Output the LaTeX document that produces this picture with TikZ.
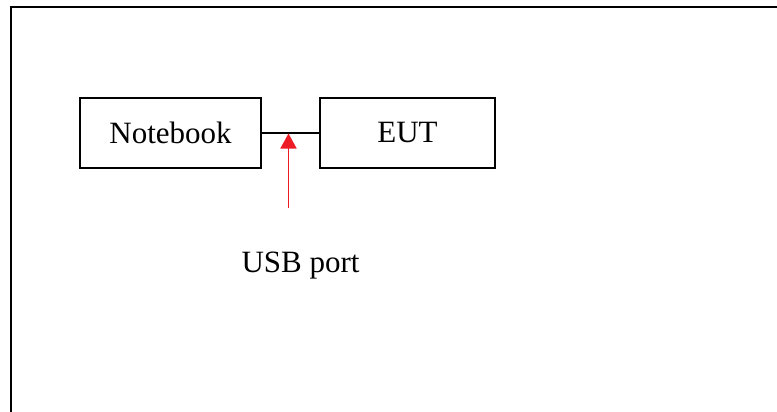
\documentclass[tikz,border=0pt]{standalone}
\usepackage{fontspec}
\setmainfont{Liberation Serif}
\usepackage{xcolor}
\definecolor{portred}{HTML}{ED1C24}
\usetikzlibrary{arrows.meta, positioning, calc}

\begin{document}
\begin{tikzpicture}[x=0.5pt, y=-0.5pt,
    every node/.style={font=\fontsize{15.5}{18}\selectfont},
    unit/.style={rectangle, draw, line width=1pt, minimum height=35pt,
                 inner sep=0pt}]

    % --- page area and frame (right and bottom edges lie off the page)
    \useasboundingbox (0,0) rectangle (777,412);
    \clip (0,0) rectangle (777,412);
    \draw[line width=1pt] (790,7) -| (10.5,430);

    % --- notebook linked to the EUT
    \node[unit, minimum width=90.5pt] (notebook) at (170.5,133) {Notebook};
    \node[unit, minimum width=87.5pt] (eut) at (407.5,133) {EUT};
    \draw[line width=1pt] (notebook.east) -- (eut.west);

    % --- USB port marker
    \coordinate (port) at (288.5,133.5);
    \coordinate (tail) at (288.5,208);
    \draw[-{Triangle[length=7.5pt, width=8pt]}, portred, line width=0.9pt]
        (tail) -- (port);
    \node[anchor=base] (usb) at (300.5,272) {USB port};
\end{tikzpicture}
\end{document}
